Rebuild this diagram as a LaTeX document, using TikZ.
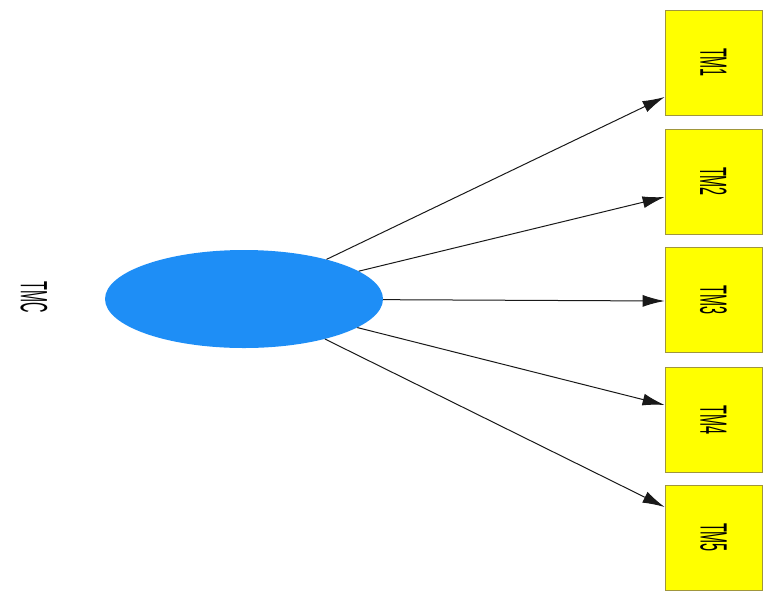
\documentclass[tikz,border=0pt]{standalone}
\usepackage{fontspec}
\setmainfont{Liberation Sans}
\usetikzlibrary{shapes.geometric,arrows.meta,calc}
\definecolor{tmcblue}{RGB}{30,142,246}
\definecolor{tmyellow}{RGB}{255,255,0}
\definecolor{tmedge}{RGB}{160,150,60}
\newcommand{\narrow}[1]{\scalebox{0.38}[1]{\fontsize{38}{38}\selectfont #1}}
\begin{document}
\begin{tikzpicture}[x=1pt,y=-1pt,
  tmbox/.style={draw=tmedge,line width=0.8pt,fill=tmyellow,minimum width=97pt,minimum height=105pt,inner sep=0pt},
  tmarrow/.style={-{Latex[length=22pt,width=12pt]},line width=1pt,draw=black!90}]
  \useasboundingbox (0,0) rectangle (767,592);
  \node[ellipse,fill=tmcblue,minimum width=278pt,minimum height=98pt,inner sep=0pt] (tmc) at (244,299) {};
  \node[rotate=-90] (tmclabel) at (34,297) {\narrow{TMC}};
  \foreach \i/\y/\d in {1/62.5/34.5, 2/181.5/15.5, 3/300/1, 4/420/-15, 5/537.5/-30.5}{
    \node[tmbox] (tm\i) at (713.5,\y) {};
    \node[rotate=-90] (tm\i label) at (tm\i) {\narrow{TM\i}};
    \draw[tmarrow] (tmc) -- ($(tm\i.west)+(0,\d)$);
  }
\end{tikzpicture}
\end{document}
